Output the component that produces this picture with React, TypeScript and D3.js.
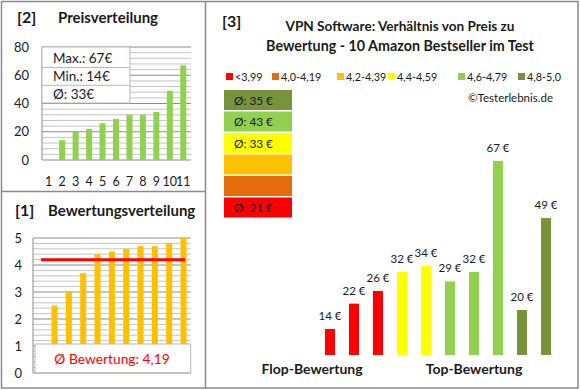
import React from 'react';
import * as d3 from 'd3';

// categories of the two small charts (first category stays empty)
const categories = ['1', '2', '3', '4', '5', '6', '7', '8', '9', '10', '11'];
const priceDist = [null, 14, 20, 22, 26, 29, 32, 32, 34, 49, 67];
const ratingDist = [null, 2.5, 3.0, 3.7, 4.4, 4.5, 4.6, 4.7, 4.7, 4.8, 5.0];
const priceTicks = [0, 20, 40, 60, 80];
const ratingTicks = [0, 1, 2, 3, 4, 5];
const priceStats = ['Max.: 67€', 'Min.: 14€', 'Ø: 33€'];
const avgRatingLabel = 'Ø Bewertung: 4,19';
const avgRating = 4.19;

// main chart: products sorted by rating
const productRatings = [2.5, 3.0, 3.7, 4.4, 4.5, 4.6, 4.7, 4.7, 4.8, 5.0];
const productPrices = [14, 22, 26, 32, 34, 29, 32, 67, 20, 49];
const classLabels = ['<3,99', '4,0-4,19', '4,2-4,39', '4,4-4,59', '4,6-4,79', '4,8-5,0'];
const classLimits = [3.99, 4.19, 4.39, 4.59, 4.79];
const classColors = ['#FF0000', '#E46C0A', '#FFC000', '#FFFF00', '#92D050', '#77933C'];
const groupLabels = ['Flop-Bewertung', 'Top-Bewertung'];

const FONT = 'Lato, "Open Sans", sans-serif';
const TXT = '#1a1a1a';
const BORDER = '#8a8a8a';

const ratingClass = (r: number) => d3.bisectLeft(classLimits, r);

export default function App() {
  // ---- [2] Preisverteilung
  const xTop = d3.scaleBand<string>().domain(categories).range([42, 190]).paddingInner(0.55).paddingOuter(0.275);
  const yTop = d3.scaleLinear().domain([0, 80]).range([160, 47]);
  const topGrid = d3.range(0, 81, 4);

  // ---- [1] Bewertungsverteilung
  const xBot = d3.scaleBand<string>().domain(categories).range([33, 190.7]).paddingInner(0.58).paddingOuter(0.29);
  const yBot = d3.scaleLinear().domain([0, 5]).range([373, 238]);
  const botGrid = d3.range(0, 26).map((i) => i / 5);

  // ---- [3] main chart
  const idx = productPrices.map((_, i) => String(i));
  const xMain = d3.scaleBand<string>().domain(idx).range([318, 558]).paddingInner(0.58).paddingOuter(0.29);
  const yMain = d3.scaleLinear().domain([5.8, 67]).range([355, 161]);

  const classAvg = classColors.map((_, c) => {
    const vals = productPrices.filter((_, i) => ratingClass(productRatings[i]) === c);
    return vals.length ? Math.round(d3.mean(vals) as number) : null;
  });
  const boxOrder = d3.range(classColors.length).reverse();
  const legendX = [226, 272, 337, 388, 458, 518];

  return (
    <svg width={580} height={390} style={{ position: 'absolute', left: 0, top: 0, background: '#fff' }} fontFamily={FONT}>
      <rect x={0} y={0} width={580} height={390} fill="#fff" />

      {/* ---------- top left: price distribution ---------- */}
      <text x={17} y={23} fontSize={16} fontWeight="bold" fill={TXT}>[2]</text>
      <text x={58} y={23} fontSize={15} fontWeight="bold" fill={TXT}>Preisverteilung</text>
      {topGrid.map((v) => (
        <line key={v} x1={42} x2={191} y1={yTop(v)} y2={yTop(v)}
          stroke={v % 20 === 0 ? '#8c8c8c' : '#c4c4c4'} strokeWidth={1} />
      ))}
      <line x1={42} x2={42} y1={yTop(80)} y2={yTop(0)} stroke="#8c8c8c" />
      {priceTicks.map((v) => (
        <text key={v} x={29} y={yTop(v) + 4.5} textAnchor="end" fontSize={13} fill={TXT}>{v}</text>
      ))}
      {categories.map((c, i) => priceDist[i] == null ? null : (
        <rect key={c} x={xTop(c)} y={yTop(priceDist[i] as number)} width={xTop.bandwidth()}
          height={yTop(0) - yTop(priceDist[i] as number)} fill="#92D050" />
      ))}
      {categories.map((c) => (
        <text key={c} x={(xTop(c) as number) + xTop.bandwidth() / 2} y={186} textAnchor="middle" fontSize={12.5} fill={TXT}>{c}</text>
      ))}
      <rect x={42} y={47} width={88} height={56} fill="#fff" stroke="#b8b8b8" />
      <line x1={42} x2={130} y1={67.5} y2={67.5} stroke="#b8b8b8" />
      <line x1={42} x2={130} y1={85.3} y2={85.3} stroke="#b8b8b8" />
      {priceStats.map((s, i) => (
        <text key={s} x={53} y={[62.5, 81, 99][i]} fontSize={13.5} fill={TXT}>{s}</text>
      ))}

      {/* ---------- bottom left: rating distribution ---------- */}
      <text x={15} y={216} fontSize={16} fontWeight="bold" fill={TXT}>[1]</text>
      <text x={48} y={216} fontSize={15} fontWeight="bold" fill={TXT}>Bewertungsverteilung</text>
      {botGrid.map((v, i) => (
        <line key={i} x1={33} x2={190.7} y1={yBot(v)} y2={yBot(v)}
          stroke={i % 5 === 0 ? '#8c8c8c' : '#c4c4c4'} strokeWidth={1} />
      ))}
      <line x1={33} x2={33} y1={yBot(5)} y2={yBot(0)} stroke="#8c8c8c" />
      {ratingTicks.map((v) => (
        <text key={v} x={22} y={yBot(v) + 4.5} textAnchor="end" fontSize={13} fill={TXT}>{v}</text>
      ))}
      {categories.map((c, i) => ratingDist[i] == null ? null : (
        <rect key={c} x={xBot(c)} y={yBot(ratingDist[i] as number)} width={xBot.bandwidth()}
          height={yBot(0) - yBot(ratingDist[i] as number)} fill="#FFC000" />
      ))}
      <line x1={41} x2={185} y1={yBot(avgRating)} y2={yBot(avgRating)} stroke="#FF0000" strokeWidth={3} />
      <rect x={35} y={344} width={155.7} height={28.7} fill="#fff" stroke="#b8b8b8" />
      <text x={112} y={364} textAnchor="middle" fontSize={13.8} fill="#FF0000">{avgRatingLabel}</text>

      {/* ---------- right: main chart ---------- */}
      <text x={222} y={27} fontSize={16} fontWeight="bold" fill={TXT}>[3]</text>
      <text x={400} y={31} textAnchor="middle" fontSize={13.6} fontWeight="bold" fill={TXT}>VPN Software: Verhältnis von Preis zu</text>
      <text x={400} y={51} textAnchor="middle" fontSize={14.3} fontWeight="bold" fill={TXT}>Bewertung - 10 Amazon Bestseller im Test</text>

      {classLabels.map((l, i) => (
        <g key={l}>
          <rect x={legendX[i]} y={73} width={7} height={7} fill={classColors[i]} />
          <text x={legendX[i] + 9} y={81} fontSize={10.8} fill={TXT}>{l}</text>
        </g>
      ))}
      <text x={553} y={102} textAnchor="end" fontSize={11.5} fill={TXT}>©Testerlebnis.de</text>

      {boxOrder.map((c, k) => (
        <g key={c}>
          <rect x={224} y={90 + k * 21.5} width={68} height={20} fill={classColors[c]} />
          {classAvg[c] != null && (
            <text x={234} y={90 + k * 21.5 + 14.5} fontSize={11.8} fill={TXT}>{`Ø: ${classAvg[c]} €`}</text>
          )}
        </g>
      ))}

      {productPrices.map((p, i) => {
        const x = xMain(String(i)) as number;
        return (
          <g key={i}>
            <rect x={x} y={yMain(p)} width={xMain.bandwidth()} height={yMain(yMain.domain()[0]) - yMain(p)}
              fill={classColors[ratingClass(productRatings[i])]} />
            <text x={x + xMain.bandwidth() / 2} y={yMain(p) - 9} textAnchor="middle" fontSize={11.5} fill={TXT}>{`${p} €`}</text>
          </g>
        );
      })}
      <text x={312} y={374} textAnchor="middle" fontSize={14} fontWeight="bold" fill={TXT}>{groupLabels[0]}</text>
      <text x={474} y={374} textAnchor="middle" fontSize={14} fontWeight="bold" fill={TXT}>{groupLabels[1]}</text>

      {/* ---------- borders ---------- */}
      <rect x={1.5} y={1.5} width={576.5} height={386.5} fill="none" stroke={BORDER} strokeWidth={1.5} />
      <line x1={205.5} x2={205.5} y1={1} y2={388} stroke={BORDER} strokeWidth={1.5} />
      <line x1={1} x2={205.5} y1={191.5} y2={191.5} stroke={BORDER} strokeWidth={1.5} />
    </svg>
  );
}
